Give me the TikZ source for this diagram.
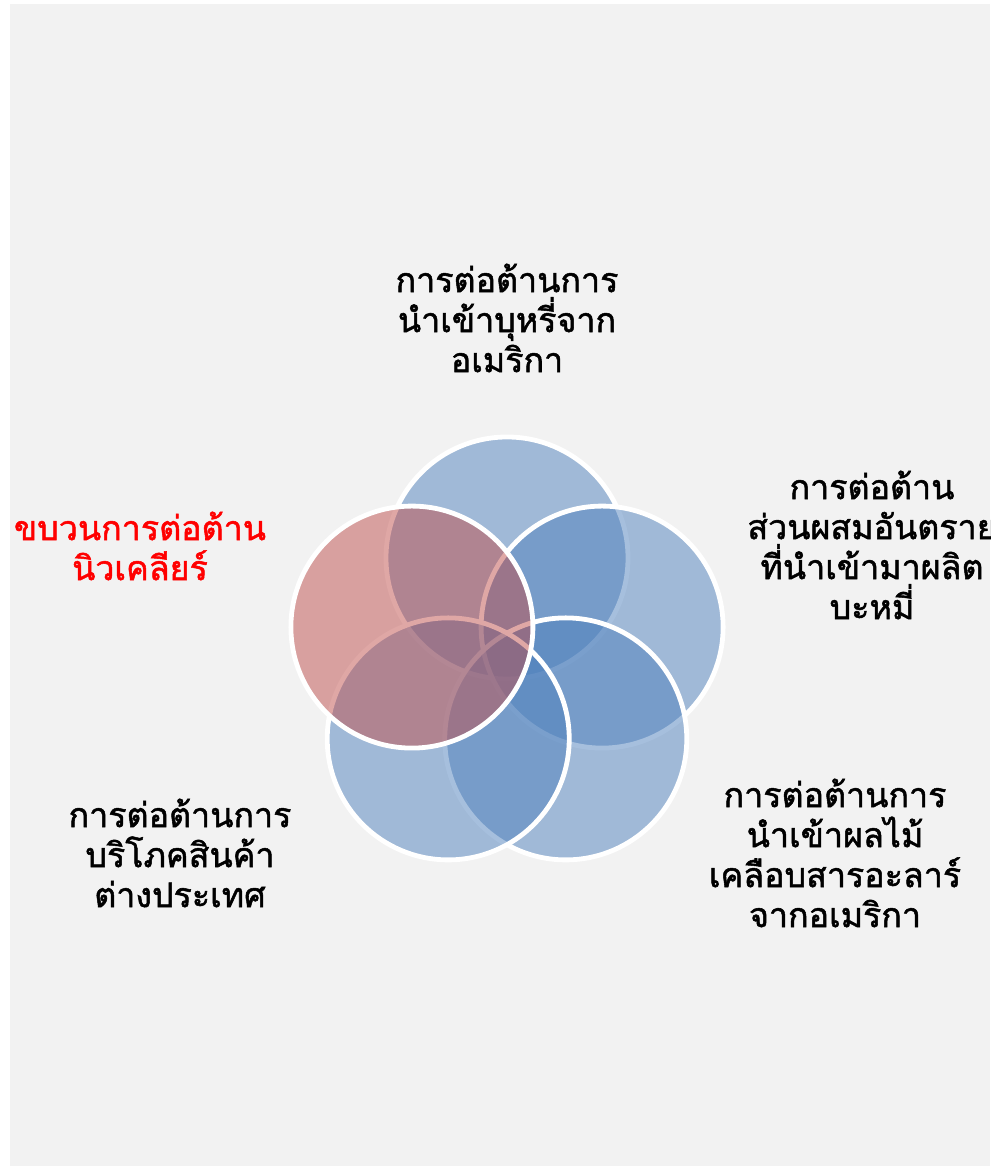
\documentclass[tikz,border=0pt]{standalone}
\usepackage{fontspec}
\newfontfamily\thaifont[Script=Thai, FakeBold=1.5]{Loma}
\definecolor{ringblue}{HTML}{4F81BD}
\definecolor{ringred}{HTML}{C0504D}
\definecolor{pagegray}{HTML}{F2F2F2}

\begin{document}
\begin{tikzpicture}[x=0.5pt, y=0.5pt,
	ring/.style={circle, draw=white, line width=2.4pt, fill opacity=0.5, minimum size=121pt, inner sep=0pt},
	txt/.style={align=center, font=\thaifont\fontsize{17}{20}\selectfont}]
	\useasboundingbox (0,0) rectangle (990,1166);
	\fill[pagegray] (10,0) rectangle (990,1162);
	\coordinate (c) at (507,508);
	\foreach \a/\n in {90/top,18/right,-54/botright,-126/botleft}
		\node[ring, fill=ringblue] (\n) at ([shift={(\a:100)}]c) {};
	\node[ring, fill=ringred] (left) at ([shift={(162:100)}]c) {};
	\node[txt] (ttop) at (507,848) {การต่อต้านการ\\นำเข้าบุหรี่จาก\\อเมริกา};
	\node[txt] (tright) at (872,621) {การต่อต้าน\\ส่วนผสมอันตราย\\ที่นำเข้ามาผลิต\\บะหมี่};
	\node[txt] (tbotright) at (835,313) {การต่อต้านการ\\นำเข้าผลไม้\\เคลือบสารอะลาร์\\จากอเมริกา};
	\node[txt] (tbotleft) at (180,313) {การต่อต้านการ\\บริโภคสินค้า\\ต่างประเทศ};
	\node[txt, text=red] (tleft) at (140,620) {ขบวนการต่อต้าน\\นิวเคลียร์};
\end{tikzpicture}
\end{document}
